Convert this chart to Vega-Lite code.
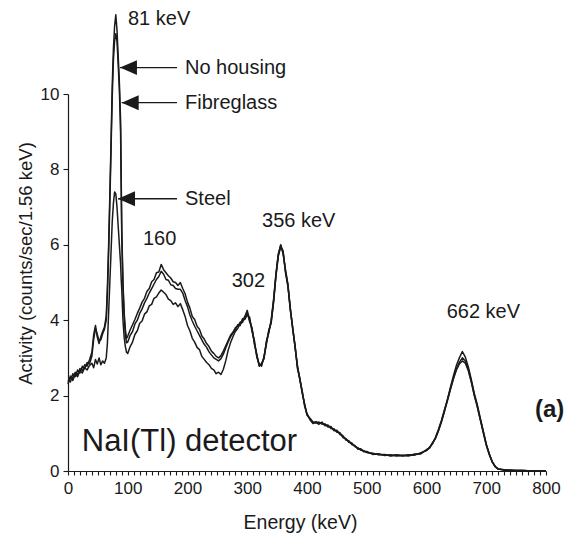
{
  "$schema": "https://vega.github.io/schema/vega-lite/v6.json",
  "width": 478,
  "height": 377,
  "autosize": {"type": "none"},
  "padding": {"left": 68, "top": 94, "right": 22, "bottom": 71},
  "background": "white",
  "config": {
    "view": {"stroke": null},
    "axis": {
      "grid": false,
      "domainColor": "#1a1a1a",
      "domainWidth": 1.2,
      "tickColor": "#1a1a1a",
      "tickWidth": 1.1,
      "labelFont": "Liberation Sans",
      "labelColor": "#1a1a1a",
      "labelFontSize": 17,
      "titleFont": "Liberation Sans",
      "titleColor": "#1a1a1a",
      "titleFontWeight": "normal"
    },
    "text": {"font": "Liberation Sans", "color": "#1a1a1a"}
  },
  "encoding": {
    "x": {
      "field": "E",
      "type": "quantitative",
      "scale": {"domain": [0, 800], "nice": false, "zero": false},
      "axis": {
        "title": "Energy (keV)",
        "titleFontSize": 19.5,
        "titleX": 232,
        "titleY": 57,
        "titleBaseline": "alphabetic",
        "titleAnchor": null,
        "tickCount": 100,
        "values": [0, 10, 20, 30, 40, 50, 60, 70, 80, 90, 100, 110, 120, 130, 140, 150, 160, 170, 180, 190, 200, 210, 220, 230, 240, 250, 260, 270, 280, 290, 300, 310, 320, 330, 340, 350, 360, 370, 380, 390, 400, 410, 420, 430, 440, 450, 460, 470, 480, 490, 500, 510, 520, 530, 540, 550, 560, 570, 580, 590, 600, 610, 620, 630, 640, 650, 660, 670, 680, 690, 700, 710, 720, 730, 740, 750, 760, 770, 780, 790, 800],
        "labelExpr": "datum.value % 100 === 0 ? datum.label : ''",
        "labelOverlap": false,
        "labelFlush": false,
        "labelPadding": 5,
        "tickSize": 4
      }
    },
    "y": {
      "field": "A",
      "type": "quantitative",
      "scale": {"domain": [0, 10], "nice": false, "zero": true},
      "axis": {
        "title": "Activity (counts/sec/1.56 keV)",
        "titleFontSize": 18.5,
        "titleX": -37,
        "titleY": 169,
        "titleBaseline": "alphabetic",
        "titleAnchor": null,
        "values": [0, 2, 4, 6, 8, 10],
        "tickCount": 10,
        "tickSize": 5,
        "labelPadding": 4
      }
    }
  },
  "layer": [
    {
      "data": {
        "values": [
          {"E": 0, "no_housing": 2.30, "fibreglass": 2.42, "steel": 2.35},
          {"E": 4, "no_housing": 2.52, "fibreglass": 2.36, "steel": 2.48},
          {"E": 8, "no_housing": 2.44, "fibreglass": 2.58, "steel": 2.40},
          {"E": 12, "no_housing": 2.62, "fibreglass": 2.50, "steel": 2.57},
          {"E": 16, "no_housing": 2.55, "fibreglass": 2.68, "steel": 2.50},
          {"E": 20, "no_housing": 2.72, "fibreglass": 2.60, "steel": 2.66},
          {"E": 24, "no_housing": 2.66, "fibreglass": 2.78, "steel": 2.60},
          {"E": 28, "no_housing": 2.82, "fibreglass": 2.72, "steel": 2.74},
          {"E": 32, "no_housing": 2.78, "fibreglass": 2.88, "steel": 2.68},
          {"E": 36, "no_housing": 2.95, "fibreglass": 2.84, "steel": 2.80},
          {"E": 40, "no_housing": 3.15, "fibreglass": 3.05, "steel": 2.86},
          {"E": 43, "no_housing": 3.62, "fibreglass": 3.50, "steel": 2.74},
          {"E": 46, "no_housing": 3.86, "fibreglass": 3.78, "steel": 2.96},
          {"E": 49, "no_housing": 3.55, "fibreglass": 3.62, "steel": 2.84},
          {"E": 52, "no_housing": 3.38, "fibreglass": 3.46, "steel": 3.00},
          {"E": 55, "no_housing": 3.56, "fibreglass": 3.48, "steel": 2.82},
          {"E": 58, "no_housing": 3.70, "fibreglass": 3.64, "steel": 2.92},
          {"E": 61, "no_housing": 3.82, "fibreglass": 3.76, "steel": 2.86},
          {"E": 64, "no_housing": 4.10, "fibreglass": 4.00, "steel": 3.00},
          {"E": 66, "no_housing": 4.90, "fibreglass": 4.70, "steel": 3.40},
          {"E": 68, "no_housing": 6.00, "fibreglass": 5.80, "steel": 4.20},
          {"E": 70, "no_housing": 7.30, "fibreglass": 7.10, "steel": 5.00},
          {"E": 72, "no_housing": 8.70, "fibreglass": 8.50, "steel": 5.80},
          {"E": 74, "no_housing": 10.20, "fibreglass": 9.90, "steel": 6.60},
          {"E": 76, "no_housing": 11.20, "fibreglass": 10.90, "steel": 7.10},
          {"E": 78, "no_housing": 11.80, "fibreglass": 11.40, "steel": 7.40},
          {"E": 80, "no_housing": 12.10, "fibreglass": 11.60, "steel": 7.35},
          {"E": 82, "no_housing": 11.70, "fibreglass": 11.40, "steel": 7.00},
          {"E": 84, "no_housing": 11.00, "fibreglass": 10.80, "steel": 6.50},
          {"E": 86, "no_housing": 10.30, "fibreglass": 10.10, "steel": 6.00},
          {"E": 88, "no_housing": 9.30, "fibreglass": 9.00, "steel": 5.50},
          {"E": 89, "no_housing": 7.80, "fibreglass": 7.60, "steel": 5.10},
          {"E": 90, "no_housing": 6.40, "fibreglass": 6.20, "steel": 4.80},
          {"E": 92, "no_housing": 5.00, "fibreglass": 4.90, "steel": 4.00},
          {"E": 94, "no_housing": 4.20, "fibreglass": 4.10, "steel": 3.55},
          {"E": 96, "no_housing": 3.75, "fibreglass": 3.62, "steel": 3.30},
          {"E": 98, "no_housing": 3.52, "fibreglass": 3.40, "steel": 3.15},
          {"E": 100, "no_housing": 3.58, "fibreglass": 3.42, "steel": 3.12},
          {"E": 104, "no_housing": 3.74, "fibreglass": 3.60, "steel": 3.30},
          {"E": 108, "no_housing": 3.88, "fibreglass": 3.70, "steel": 3.42},
          {"E": 112, "no_housing": 4.02, "fibreglass": 3.90, "steel": 3.62},
          {"E": 116, "no_housing": 4.18, "fibreglass": 4.00, "steel": 3.72},
          {"E": 120, "no_housing": 4.32, "fibreglass": 4.18, "steel": 3.92},
          {"E": 124, "no_housing": 4.48, "fibreglass": 4.30, "steel": 3.98},
          {"E": 128, "no_housing": 4.58, "fibreglass": 4.46, "steel": 4.16},
          {"E": 132, "no_housing": 4.76, "fibreglass": 4.58, "steel": 4.22},
          {"E": 136, "no_housing": 4.84, "fibreglass": 4.72, "steel": 4.38},
          {"E": 140, "no_housing": 5.02, "fibreglass": 4.84, "steel": 4.42},
          {"E": 144, "no_housing": 5.08, "fibreglass": 4.96, "steel": 4.58},
          {"E": 148, "no_housing": 5.26, "fibreglass": 5.08, "steel": 4.62},
          {"E": 152, "no_housing": 5.28, "fibreglass": 5.16, "steel": 4.72},
          {"E": 156, "no_housing": 5.48, "fibreglass": 5.30, "steel": 4.80},
          {"E": 160, "no_housing": 5.34, "fibreglass": 5.22, "steel": 4.74},
          {"E": 164, "no_housing": 5.26, "fibreglass": 5.08, "steel": 4.68},
          {"E": 168, "no_housing": 5.18, "fibreglass": 5.06, "steel": 4.56},
          {"E": 172, "no_housing": 5.12, "fibreglass": 4.94, "steel": 4.52},
          {"E": 176, "no_housing": 5.02, "fibreglass": 4.92, "steel": 4.42},
          {"E": 180, "no_housing": 5.00, "fibreglass": 4.84, "steel": 4.46},
          {"E": 184, "no_housing": 4.92, "fibreglass": 4.82, "steel": 4.36},
          {"E": 188, "no_housing": 5.00, "fibreglass": 4.82, "steel": 4.44},
          {"E": 192, "no_housing": 4.84, "fibreglass": 4.72, "steel": 4.28},
          {"E": 196, "no_housing": 4.70, "fibreglass": 4.52, "steel": 4.10},
          {"E": 200, "no_housing": 4.48, "fibreglass": 4.36, "steel": 3.86},
          {"E": 204, "no_housing": 4.32, "fibreglass": 4.14, "steel": 3.72},
          {"E": 208, "no_housing": 4.10, "fibreglass": 3.98, "steel": 3.52},
          {"E": 212, "no_housing": 4.02, "fibreglass": 3.84, "steel": 3.42},
          {"E": 216, "no_housing": 3.84, "fibreglass": 3.72, "steel": 3.28},
          {"E": 220, "no_housing": 3.76, "fibreglass": 3.60, "steel": 3.22},
          {"E": 224, "no_housing": 3.58, "fibreglass": 3.48, "steel": 3.04},
          {"E": 228, "no_housing": 3.50, "fibreglass": 3.36, "steel": 2.96},
          {"E": 232, "no_housing": 3.38, "fibreglass": 3.28, "steel": 2.88},
          {"E": 236, "no_housing": 3.30, "fibreglass": 3.16, "steel": 2.82},
          {"E": 240, "no_housing": 3.18, "fibreglass": 3.08, "steel": 2.72},
          {"E": 244, "no_housing": 3.12, "fibreglass": 3.00, "steel": 2.68},
          {"E": 248, "no_housing": 3.04, "fibreglass": 2.96, "steel": 2.58},
          {"E": 252, "no_housing": 3.00, "fibreglass": 2.92, "steel": 2.62},
          {"E": 256, "no_housing": 3.06, "fibreglass": 2.98, "steel": 2.56},
          {"E": 260, "no_housing": 3.18, "fibreglass": 3.10, "steel": 2.70},
          {"E": 264, "no_housing": 3.32, "fibreglass": 3.26, "steel": 2.92},
          {"E": 268, "no_housing": 3.46, "fibreglass": 3.42, "steel": 3.20},
          {"E": 272, "no_housing": 3.60, "fibreglass": 3.56, "steel": 3.40},
          {"E": 276, "no_housing": 3.68, "fibreglass": 3.66, "steel": 3.56},
          {"E": 280, "no_housing": 3.80, "fibreglass": 3.74, "steel": 3.70},
          {"E": 284, "no_housing": 3.84, "fibreglass": 3.88, "steel": 3.78},
          {"E": 288, "no_housing": 3.94, "fibreglass": 3.86, "steel": 3.90},
          {"E": 292, "no_housing": 3.98, "fibreglass": 4.04, "steel": 3.94},
          {"E": 296, "no_housing": 4.10, "fibreglass": 4.02, "steel": 4.08},
          {"E": 300, "no_housing": 4.26, "fibreglass": 4.14, "steel": 4.20},
          {"E": 304, "no_housing": 4.00, "fibreglass": 4.08, "steel": 3.96},
          {"E": 308, "no_housing": 3.76, "fibreglass": 3.70, "steel": 3.80},
          {"E": 312, "no_housing": 3.40, "fibreglass": 3.46, "steel": 3.36},
          {"E": 316, "no_housing": 3.06, "fibreglass": 3.02, "steel": 3.10},
          {"E": 320, "no_housing": 2.80, "fibreglass": 2.84, "steel": 2.78},
          {"E": 324, "no_housing": 2.82, "fibreglass": 2.78, "steel": 2.86},
          {"E": 328, "no_housing": 3.00, "fibreglass": 3.04, "steel": 2.98},
          {"E": 332, "no_housing": 3.40, "fibreglass": 3.36, "steel": 3.44},
          {"E": 336, "no_housing": 3.70, "fibreglass": 3.74, "steel": 3.66},
          {"E": 340, "no_housing": 3.96, "fibreglass": 3.92, "steel": 4.00},
          {"E": 344, "no_housing": 4.50, "fibreglass": 4.46, "steel": 4.54},
          {"E": 348, "no_housing": 5.20, "fibreglass": 5.16, "steel": 5.22},
          {"E": 352, "no_housing": 5.74, "fibreglass": 5.70, "steel": 5.76},
          {"E": 356, "no_housing": 6.00, "fibreglass": 5.94, "steel": 5.98},
          {"E": 360, "no_housing": 5.80, "fibreglass": 5.84, "steel": 5.76},
          {"E": 364, "no_housing": 5.30, "fibreglass": 5.26, "steel": 5.34},
          {"E": 368, "no_housing": 4.94, "fibreglass": 4.90, "steel": 4.96},
          {"E": 372, "no_housing": 4.30, "fibreglass": 4.34, "steel": 4.28},
          {"E": 376, "no_housing": 3.80, "fibreglass": 3.76, "steel": 3.82},
          {"E": 380, "no_housing": 3.30, "fibreglass": 3.34, "steel": 3.28},
          {"E": 384, "no_housing": 2.76, "fibreglass": 2.72, "steel": 2.80},
          {"E": 388, "no_housing": 2.44, "fibreglass": 2.46, "steel": 2.42},
          {"E": 392, "no_housing": 2.10, "fibreglass": 2.06, "steel": 2.12},
          {"E": 396, "no_housing": 1.76, "fibreglass": 1.78, "steel": 1.72},
          {"E": 400, "no_housing": 1.50, "fibreglass": 1.48, "steel": 1.52},
          {"E": 405, "no_housing": 1.38, "fibreglass": 1.40, "steel": 1.36},
          {"E": 410, "no_housing": 1.28, "fibreglass": 1.30, "steel": 1.26},
          {"E": 415, "no_housing": 1.31, "fibreglass": 1.27, "steel": 1.29},
          {"E": 420, "no_housing": 1.26, "fibreglass": 1.30, "steel": 1.24},
          {"E": 425, "no_housing": 1.28, "fibreglass": 1.24, "steel": 1.30},
          {"E": 430, "no_housing": 1.22, "fibreglass": 1.25, "steel": 1.20},
          {"E": 435, "no_housing": 1.20, "fibreglass": 1.17, "steel": 1.22},
          {"E": 440, "no_housing": 1.15, "fibreglass": 1.18, "steel": 1.13},
          {"E": 445, "no_housing": 1.10, "fibreglass": 1.07, "steel": 1.12},
          {"E": 450, "no_housing": 1.05, "fibreglass": 1.08, "steel": 1.03},
          {"E": 455, "no_housing": 1.00, "fibreglass": 0.97, "steel": 1.02},
          {"E": 460, "no_housing": 0.91, "fibreglass": 0.94, "steel": 0.89},
          {"E": 465, "no_housing": 0.85, "fibreglass": 0.82, "steel": 0.86},
          {"E": 470, "no_housing": 0.78, "fibreglass": 0.80, "steel": 0.76},
          {"E": 475, "no_housing": 0.72, "fibreglass": 0.70, "steel": 0.74},
          {"E": 480, "no_housing": 0.66, "fibreglass": 0.68, "steel": 0.65},
          {"E": 485, "no_housing": 0.60, "fibreglass": 0.58, "steel": 0.62},
          {"E": 490, "no_housing": 0.57, "fibreglass": 0.59, "steel": 0.55},
          {"E": 495, "no_housing": 0.53, "fibreglass": 0.51, "steel": 0.54},
          {"E": 500, "no_housing": 0.50, "fibreglass": 0.52, "steel": 0.49},
          {"E": 510, "no_housing": 0.46, "fibreglass": 0.44, "steel": 0.47},
          {"E": 520, "no_housing": 0.44, "fibreglass": 0.46, "steel": 0.43},
          {"E": 530, "no_housing": 0.43, "fibreglass": 0.41, "steel": 0.44},
          {"E": 540, "no_housing": 0.41, "fibreglass": 0.43, "steel": 0.40},
          {"E": 550, "no_housing": 0.42, "fibreglass": 0.40, "steel": 0.43},
          {"E": 560, "no_housing": 0.40, "fibreglass": 0.42, "steel": 0.41},
          {"E": 570, "no_housing": 0.42, "fibreglass": 0.40, "steel": 0.43},
          {"E": 580, "no_housing": 0.43, "fibreglass": 0.45, "steel": 0.42},
          {"E": 590, "no_housing": 0.47, "fibreglass": 0.45, "steel": 0.48},
          {"E": 600, "no_housing": 0.55, "fibreglass": 0.57, "steel": 0.54},
          {"E": 605, "no_housing": 0.62, "fibreglass": 0.60, "steel": 0.63},
          {"E": 610, "no_housing": 0.73, "fibreglass": 0.75, "steel": 0.72},
          {"E": 615, "no_housing": 0.88, "fibreglass": 0.86, "steel": 0.89},
          {"E": 620, "no_housing": 1.08, "fibreglass": 1.06, "steel": 1.10},
          {"E": 625, "no_housing": 1.32, "fibreglass": 1.30, "steel": 1.34},
          {"E": 630, "no_housing": 1.60, "fibreglass": 1.58, "steel": 1.62},
          {"E": 635, "no_housing": 1.90, "fibreglass": 1.86, "steel": 1.88},
          {"E": 640, "no_housing": 2.22, "fibreglass": 2.16, "steel": 2.18},
          {"E": 645, "no_housing": 2.52, "fibreglass": 2.44, "steel": 2.46},
          {"E": 650, "no_housing": 2.80, "fibreglass": 2.70, "steel": 2.68},
          {"E": 655, "no_housing": 3.00, "fibreglass": 2.88, "steel": 2.84},
          {"E": 660, "no_housing": 3.17, "fibreglass": 3.00, "steel": 2.92},
          {"E": 665, "no_housing": 3.02, "fibreglass": 2.92, "steel": 2.86},
          {"E": 670, "no_housing": 2.76, "fibreglass": 2.70, "steel": 2.66},
          {"E": 675, "no_housing": 2.42, "fibreglass": 2.38, "steel": 2.36},
          {"E": 680, "no_housing": 2.06, "fibreglass": 2.02, "steel": 2.00},
          {"E": 685, "no_housing": 1.76, "fibreglass": 1.72, "steel": 1.70},
          {"E": 690, "no_housing": 1.40, "fibreglass": 1.38, "steel": 1.36},
          {"E": 695, "no_housing": 1.06, "fibreglass": 1.04, "steel": 1.02},
          {"E": 700, "no_housing": 0.72, "fibreglass": 0.70, "steel": 0.69},
          {"E": 705, "no_housing": 0.46, "fibreglass": 0.45, "steel": 0.44},
          {"E": 710, "no_housing": 0.25, "fibreglass": 0.24, "steel": 0.24},
          {"E": 715, "no_housing": 0.12, "fibreglass": 0.12, "steel": 0.11},
          {"E": 720, "no_housing": 0.06, "fibreglass": 0.05, "steel": 0.05},
          {"E": 730, "no_housing": 0.03, "fibreglass": 0.03, "steel": 0.02},
          {"E": 740, "no_housing": 0.02, "fibreglass": 0.02, "steel": 0.02},
          {"E": 750, "no_housing": 0.01, "fibreglass": 0.01, "steel": 0.01},
          {"E": 760, "no_housing": 0.01, "fibreglass": 0.01, "steel": 0.01},
          {"E": 780, "no_housing": 0.00, "fibreglass": 0.00, "steel": 0.00},
          {"E": 800, "no_housing": 0.00, "fibreglass": 0.00, "steel": 0.00}
        ]
      },
      "transform": [
        {"fold": ["no_housing", "fibreglass", "steel"], "as": ["housing", "A"]}
      ],
      "mark": {"type": "line", "color": "#1a1a1a", "strokeWidth": 1.5, "strokeJoin": "round"},
      "encoding": {
        "detail": {"field": "housing"}
      }
    },
    {
      "data": {
        "values": [
          {"housing": "No housing", "E": 87.0, "E2": 182.4, "A": 10.70},
          {"housing": "Fibreglass", "E": 89.9, "E2": 182.4, "A": 9.77},
          {"housing": "Steel", "E": 83.7, "E2": 182.4, "A": 7.22}
        ]
      },
      "mark": {"type": "rule", "color": "#1a1a1a", "strokeWidth": 1.4},
      "encoding": {
        "x2": {"field": "E2"}
      }
    },
    {
      "data": {
        "values": [
          {"housing": "No housing", "E": 101.2, "A": 10.70},
          {"housing": "Fibreglass", "E": 104.1, "A": 9.77},
          {"housing": "Steel", "E": 97.9, "A": 7.22}
        ]
      },
      "mark": {
        "type": "point",
        "shape": "M -1 0 L 1 -0.88 L 1 0.88 Z",
        "filled": true,
        "color": "#1a1a1a",
        "opacity": 1,
        "size": 289
      }
    },
    {
      "data": {
        "values": [
          {"E": 100.4, "A": 12.0, "label": "81 keV"},
          {"E": 195.8, "A": 10.70, "label": "No housing"},
          {"E": 195.8, "A": 9.77, "label": "Fibreglass"},
          {"E": 195.8, "A": 7.22, "label": "Steel"},
          {"E": 125.5, "A": 6.15, "label": "160"},
          {"E": 274, "A": 5.04, "label": "302"},
          {"E": 324.7, "A": 6.62, "label": "356 keV"},
          {"E": 633.8, "A": 4.23, "label": "662 keV"}
        ]
      },
      "mark": {"type": "text", "align": "left", "baseline": "middle", "fontSize": 20},
      "encoding": {
        "text": {"field": "label"}
      }
    },
    {
      "data": {"values": [{"E": 23, "A": 0.78, "label": "NaI(Tl) detector"}]},
      "mark": {"type": "text", "align": "left", "baseline": "middle", "fontSize": 31},
      "encoding": {
        "text": {"field": "label"}
      }
    },
    {
      "data": {"values": [{"E": 781.6, "A": 1.62, "label": "(a)"}]},
      "mark": {"type": "text", "align": "left", "baseline": "middle", "fontSize": 24, "fontWeight": "bold"},
      "encoding": {
        "text": {"field": "label"}
      }
    }
  ]
}
